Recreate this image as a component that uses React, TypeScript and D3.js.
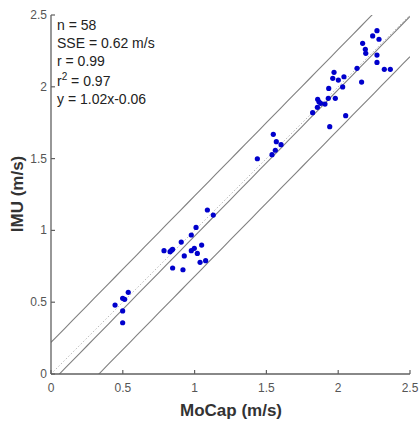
import React from "react";
import * as d3 from "d3";

const mocap = [
  0.446, 0.499, 0.513, 0.538, 0.499, 0.499,
  1.089, 1.130, 1.010, 0.977, 0.907, 0.787, 0.829, 0.847, 0.998, 0.977, 1.049, 1.019, 0.928, 0.847, 0.919, 1.038, 1.077, 0.840,
  1.548, 1.569, 1.602, 1.562, 1.539, 1.437,
  1.857, 1.866, 1.878, 1.855, 1.908, 1.822, 1.931, 1.980, 1.934, 1.962, 1.971, 2.001, 2.040, 2.031, 2.052, 1.941, 2.131, 2.163, 2.170, 2.189, 2.192, 2.240, 2.270, 2.284, 2.270, 2.270, 2.321, 2.363,
];
const imu = [
  0.480, 0.527, 0.520, 0.569, 0.439, 0.357,
  1.142, 1.107, 1.021, 0.968, 0.919, 0.859, 0.852, 0.868, 0.875, 0.859, 0.898, 0.840, 0.822, 0.738, 0.726, 0.778, 0.789, 0.862,
  1.669, 1.618, 1.597, 1.558, 1.527, 1.499,
  1.913, 1.896, 1.885, 1.857, 1.880, 1.820, 1.920, 1.920, 1.989, 2.059, 2.101, 2.047, 2.070, 1.999, 1.799, 1.722, 2.129, 2.033, 2.303, 2.261, 2.233, 2.354, 2.391, 2.331, 2.221, 2.170, 2.122, 2.122,
];
const ticks = [0, 0.5, 1, 1.5, 2, 2.5];
const fitSlope = 1.02;
const fitIntercept = -0.06;
const bandOffsets = [-0.28, 0, 0.28];
const statLines = ["n = 58", "SSE = 0.62 m/s", "r = 0.99", "r2", "y = 1.02x-0.06"];

const W = 419;
const H = 421;
const font = "'Liberation Sans', Arial, Helvetica, sans-serif";

export default function App() {
  const x = d3.scaleLinear().domain([0, 2.5]).range([51, 410]);
  const y = d3.scaleLinear().domain([0, 2.5]).range([374, 15]);
  const [x0, x1] = x.range();
  const [y0, y1] = y.range();

  const line = d3
    .line<[number, number]>()
    .x((d) => x(d[0]))
    .y((d) => y(d[1]));

  const fitLine = (off: number) => {
    const xs = d3.range(0, 2.5001, 0.05);
    return line(xs.map((v) => [v, fitSlope * v + fitIntercept + off] as [number, number]));
  };

  return (
    <svg
      width={W}
      height={H}
      style={{ position: "absolute", left: 0, top: 0, background: "#fff" }}
      fontFamily={font}
    >
      <defs>
        <clipPath id="plotclip">
          <rect x={x0} y={y1} width={x1 - x0} height={y0 - y1} />
        </clipPath>
      </defs>
      <g clipPath="url(#plotclip)">
        <path
          d={line([[0, 0], [2.5, 2.5]]) || ""}
          stroke="#bbb"
          strokeWidth={1}
          strokeDasharray="1.5,2"
          fill="none"
        />
        {bandOffsets.map((o, i) => (
          <path key={i} d={fitLine(o) || ""} stroke="#808080" strokeWidth={1.1} fill="none" />
        ))}
      </g>
      {mocap.map((m, i) => (
        <circle key={i} cx={x(m)} cy={y(imu[i])} r={2.6} fill="#0000cc" />
      ))}
      {/* axes */}
      <line x1={x0} x2={x1} y1={y0} y2={y0} stroke="#606060" strokeWidth={1.3} />
      <line x1={x0} x2={x0} y1={y0} y2={y1} stroke="#606060" strokeWidth={1.3} />
      {ticks.map((t) => (
        <g key={"x" + t}>
          <line x1={x(t)} x2={x(t)} y1={y0} y2={y0 - 4} stroke="#606060" strokeWidth={1.2} />
          <text x={x(t)} y={y0 + 18} textAnchor="middle" fontSize={12} fill="#555">
            {String(t)}
          </text>
        </g>
      ))}
      {ticks.map((t) => (
        <g key={"y" + t}>
          <line x1={x0} x2={x0 + 4} y1={y(t)} y2={y(t)} stroke="#606060" strokeWidth={1.2} />
          <text x={x0 - 4} y={y(t) + 4} textAnchor="end" fontSize={12} fill="#555">
            {String(t)}
          </text>
        </g>
      ))}
      <text x={231} y={416} textAnchor="middle" fontSize={17} fontWeight="bold" fill="#333">
        MoCap (m/s)
      </text>
      <text
        transform={`translate(23,194) rotate(-90)`}
        textAnchor="middle"
        fontSize={17}
        fontWeight="bold"
        fill="#333"
      >
        IMU (m/s)
      </text>
      {statLines.map((s, i) => {
        const by = [30, 48, 66, 86, 104][i];
        if (s === "r2") {
          return (
            <text key={i} x={57} y={by} fontSize={14} fill="#222">
              r<tspan dy={-6} fontSize={10}>2</tspan>
              <tspan dy={6}> = 0.97</tspan>
            </text>
          );
        }
        return (
          <text key={i} x={57} y={by} fontSize={14} fill="#222">
            {s}
          </text>
        );
      })}
    </svg>
  );
}
